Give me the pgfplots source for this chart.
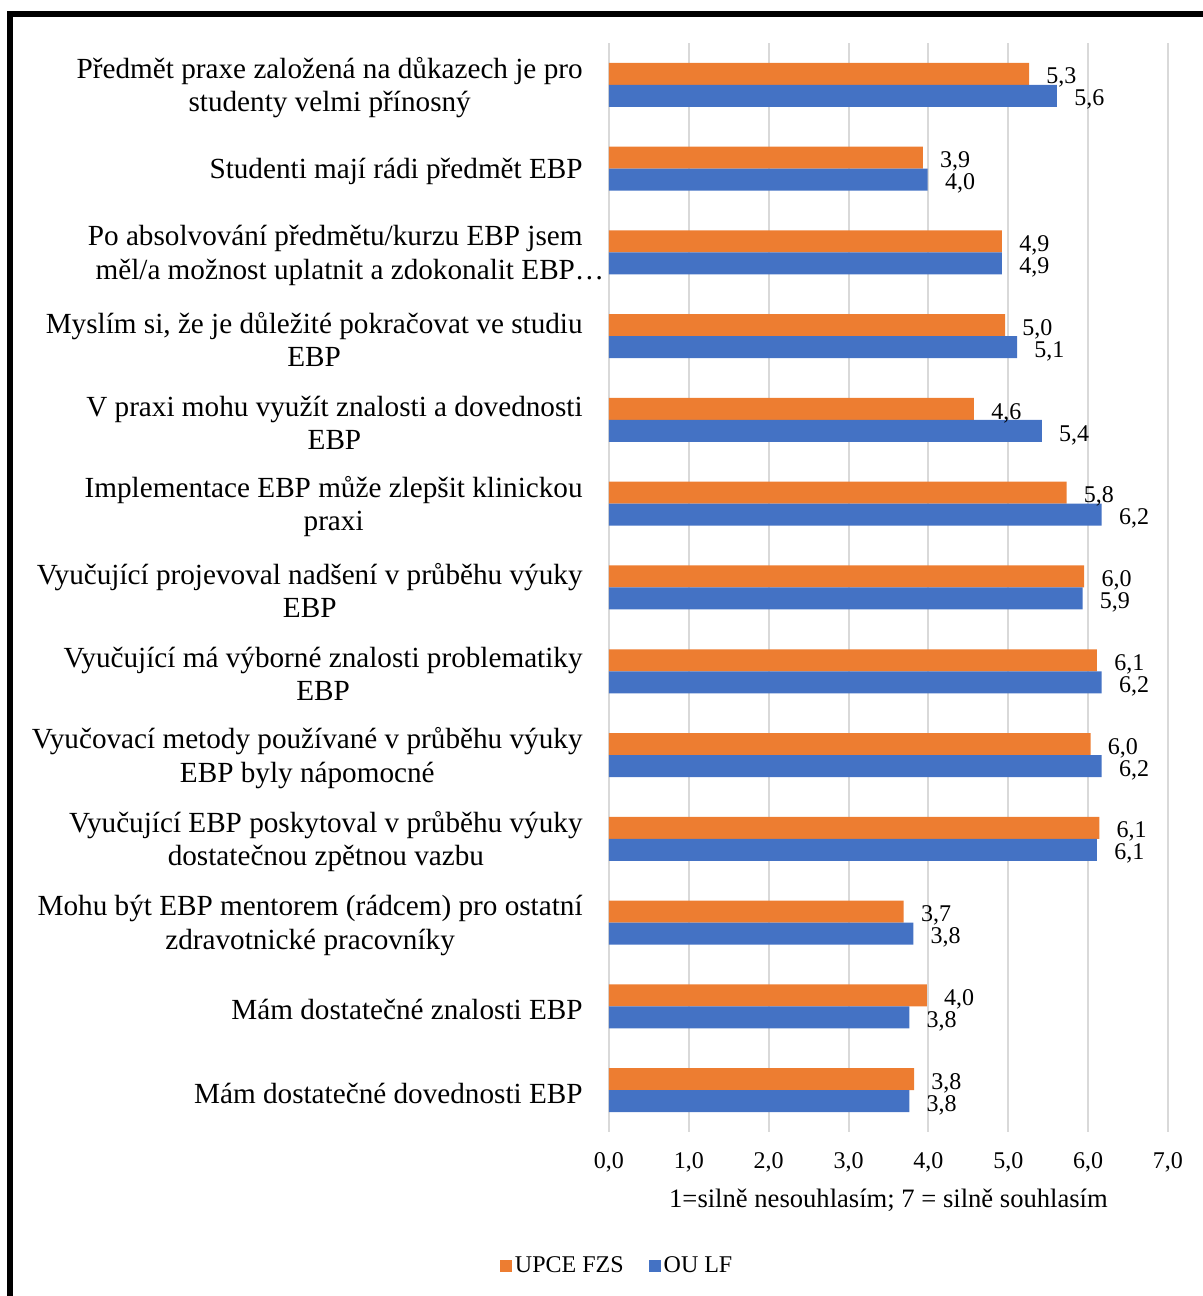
\documentclass[border=0pt]{standalone}
\usepackage{fontspec}
\setmainfont{Liberation Serif}
\usepackage{pgfplots}
\usepackage{pgfplotstable}
\pgfplotsset{compat=1.18}

\definecolor{upce}{HTML}{ED7D31}
\definecolor{oulf}{HTML}{4472C4}
\definecolor{gridc}{HTML}{D9D9D9}

% y = 12 is the top category
\pgfplotstableread{
y  o     ol   b     bl
12 5.26  5,3  5.61  5,6
11 3.93  3,9  3.99  4,0
10 4.92  4,9  4.92  4,9
9  4.96  5,0  5.11  5,1
8  4.57  4,6  5.42  5,4
7  5.73  5,8  6.17  6,2
6  5.95  6,0  5.93  5,9
5  6.11  6,1  6.17  6,2
4  6.03  6,0  6.17  6,2
3  6.14  6,1  6.11  6,1
2  3.69  3,7  3.81  3,8
1  3.98  4,0  3.76  3,8
0  3.82  3,8  3.76  3,8
}\data

\begin{document}
\begin{tikzpicture}
\useasboundingbox (0,0) rectangle (601.5pt,648pt);
\begin{axis}[
  at={(304.5pt,82pt)}, anchor=south west,
  scale only axis, width=279.5pt, height=544.5pt,
  xbar, bar width=11pt,
  xmin=0, xmax=7, ymin=-0.5, ymax=12.5,
  xtick={0,1,...,7},
  ytick={0,...,12},
  yticklabels={
    {Mám dostatečné dovednosti EBP},
    {Mám dostatečné znalosti EBP},
    {Mohu být EBP mentorem (rádcem) pro ostatní\\zdravotnické pracovníky},
    {Vyučující EBP poskytoval v průběhu výuky\\dostatečnou zpětnou vazbu},
    {Vyučovací metody používané v průběhu výuky\\EBP byly nápomocné},
    {Vyučující má výborné znalosti problematiky\\EBP},
    {Vyučující projevoval nadšení v průběhu výuky\\EBP},
    {Implementace EBP může zlepšit klinickou\\praxi},
    {V praxi mohu využít znalosti a dovednosti\\EBP},
    {Myslím si, že je důležité pokračovat ve studiu\\EBP},
    {Po absolvování předmětu/kurzu EBP jsem\\měl/a možnost uplatnit a zdokonalit EBP\rlap{…}},
    {Studenti mají rádi předmět EBP},
    {Předmět praxe založená na důkazech je pro\\studenty velmi přínosný}
  },
  major tick length=0pt,
  axis line style={draw=none},
  xmajorgrids, grid style={gridc, line width=1pt},
  /pgf/number format/assume math mode=true,
  xticklabel={\pgfmathprintnumber[fixed, fixed zerofill, precision=1, use comma]{\tick}},
  xticklabel style={font=\fontsize{12}{14}\selectfont, inner sep=0pt, anchor=north, yshift=-10pt},
  yticklabel style={font=\fontsize{14.6}{16.6}\selectfont, align=center, inner sep=0pt, anchor=east, xshift=-13pt, yshift=-1.5pt},
  xlabel={1=silně nesouhlasím; 7 = silně souhlasím},
  xlabel style={font=\fontsize{13.3}{15}\selectfont, at={(axis description cs:0.5,-0.0625)}, anchor=center},
  nodes near coords={\pgfplotspointmeta},
  point meta=explicit symbolic,
  every node near coord/.append style={font=\fontsize{12}{14}\selectfont, anchor=west, inner sep=0pt, xshift=8.5pt, yshift=-2pt},
  legend style={at={(0.0155,-0.123)}, anchor=center, draw=none, legend columns=2,
    font=\fontsize{12}{14}\selectfont,
    nodes={inner sep=1.5pt},
    /tikz/every even column/.append style={column sep=11pt}},
  legend image code/.code={\fill[#1] (0pt,-3pt) rectangle (6pt,3pt);},
  clip=false,
]
\addplot[fill=upce, draw=none, bar shift=5.5pt] table[x=o, y=y, meta=ol] {\data};
\addlegendentry{UPCE FZS}
\addplot[fill=oulf, draw=none, bar shift=-5.5pt] table[x=b, y=y, meta=bl] {\data};
\addlegendentry{OU LF}
\end{axis}
\draw[line width=3pt, line join=miter] (4.75pt,0) -- (4.75pt,641pt) -- (601.5pt,641pt);
\end{tikzpicture}
\end{document}
